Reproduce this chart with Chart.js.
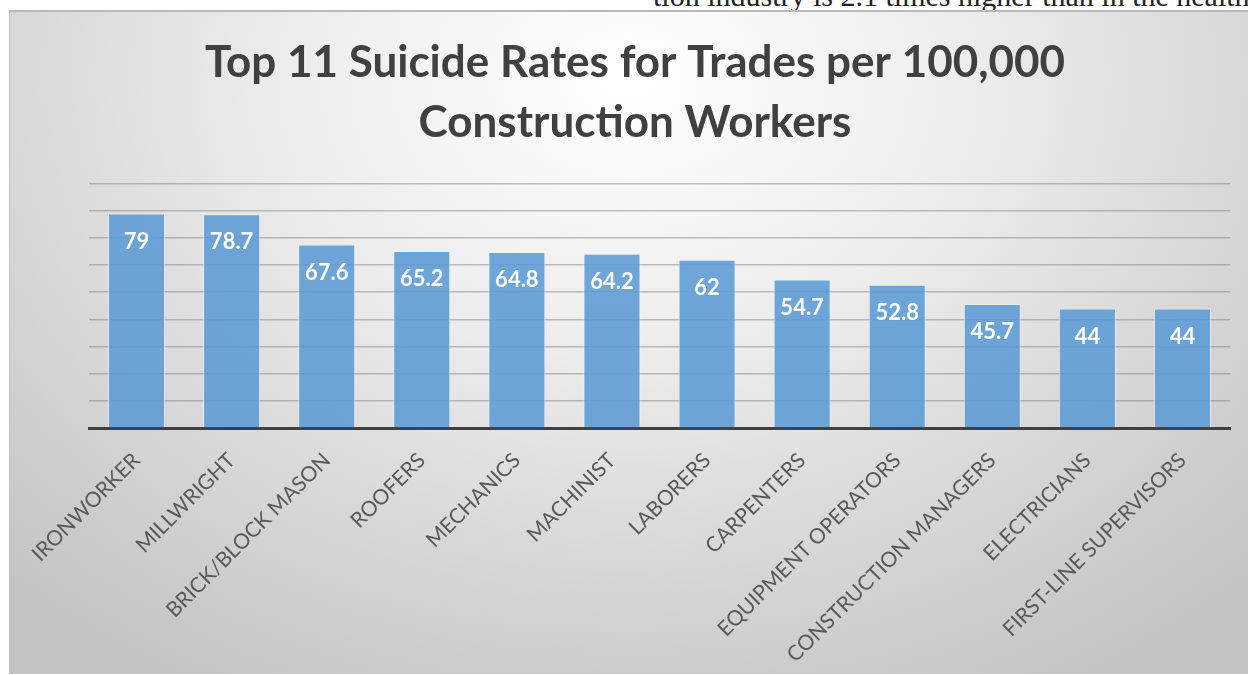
<!DOCTYPE html>
<html>
<head>
<meta charset="utf-8">
<script src="https://cdn.jsdelivr.net/npm/chart.js@4.4.1/dist/chart.umd.min.js"></script>
<style>
  html, body { margin: 0; padding: 0; background: #fff; overflow: hidden; }
  body { width: 1248px; height: 675px; position: relative; }
  #pageText {
    position: absolute; left: 653px; top: -19px; white-space: nowrap; line-height: 30px;
    font-family: "Liberation Serif", serif; font-size: 30px; color: #222;
  }
  #frame {
    position: absolute; left: 9px; top: 10px; width: 1239px; height: 664px;
    border-top: 2px solid #b9b9b9; border-left: 1px solid #c2c2c2; box-sizing: border-box;
    background: radial-gradient(ellipse 72% 105% at 50% 10%, #ffffff 0%, #ececec 40%, #d4d4d4 75%, #c4c4c4 100%);
  }
</style>
</head>
<body>
<div id="pageText">tion industry is 2.1 times higher than in the healthcare</div>
<div id="frame"><canvas id="chartTrades"></canvas></div>
<script>
const titleLines = ["Top 11 Suicide Rates for Trades per 100,000", "Construction Workers"];

const trades = [
  "IRONWORKER", "MILLWRIGHT", "BRICK/BLOCK MASON", "ROOFERS", "MECHANICS", "MACHINIST",
  "LABORERS", "CARPENTERS", "EQUIPMENT OPERATORS", "CONSTRUCTION MANAGERS", "ELECTRICIANS",
  "FIRST-LINE SUPERVISORS"
];

const rates = [79, 78.7, 67.6, 65.2, 64.8, 64.2, 62, 54.7, 52.8, 45.7, 44, 44];

const yMin = 0;
const yMax = 90;
const yStep = 10;

// white value labels inside the top of each bar
const barLabels = {
  id: "barLabels",
  afterDatasetsDraw(chart) {
    const ctx = chart.ctx;
    const meta = chart.getDatasetMeta(0);
    ctx.save();
    ctx.font = "bold 22px Lato";
    ctx.fillStyle = "#ffffff";
    ctx.textAlign = "center";
    ctx.textBaseline = "middle";
    meta.data.forEach((bar, i) => {
      ctx.fillText(String(rates[i]), bar.x, bar.y + 28);
    });
    ctx.restore();
  },
};

const data = {
  labels: trades,
  datasets: [
    {
      label: "Suicide rate",
      data: rates,
      backgroundColor: "rgba(91, 155, 213, 0.88)",
      borderColor: "rgba(235, 243, 250, 0.7)",
      borderWidth: 1,
      categoryPercentage: 1,
      barPercentage: 0.6,
    },
  ],
};

const config = {
  type: "bar",
  data,
  plugins: [barLabels],
  options: {
    responsive: true,
    maintainAspectRatio: false,
    animation: false,
    layout: { padding: { left: 30, right: 18, top: 0, bottom: 0 } },
    plugins: {
      legend: { display: false },
      tooltip: { enabled: false },
      title: {
        display: true,
        text: titleLines,
        color: "#404040",
        font: { family: "Lato", size: 44, weight: "bold", lineHeight: 1.36 },
        padding: { top: 21, bottom: 31 },
      },
    },
    scales: {
      x: {
        grid: { display: false },
        border: { color: "#404040", width: 3 },
        ticks: {
          color: "#595959",
          font: { family: "Lato", size: 21 },
          minRotation: 45,
          maxRotation: 45,
          padding: 12,
          autoSkip: false,
        },
        afterFit: (scale) => { scale.height = 246; },
      },
      y: {
        min: yMin,
        max: yMax,
        ticks: { stepSize: yStep, display: false },
        border: { display: false },
        afterFit: (scale) => { scale.width = 49; },
        grid: {
          drawTicks: false,
          lineWidth: 1.6,
          color: (c) => (c.tick && c.tick.value === 0 ? "rgba(0,0,0,0)" : "rgba(120, 120, 120, 0.45)"),
        },
      },
    },
  },
};

const chartTrades = new Chart(document.getElementById("chartTrades"), config);
</script>
</body>
</html>
